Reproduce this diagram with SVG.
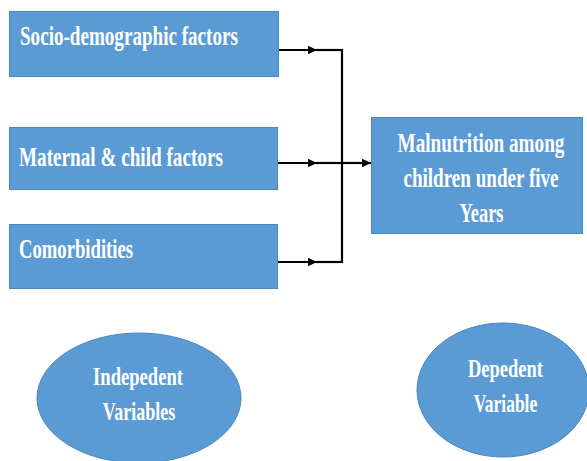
<svg xmlns="http://www.w3.org/2000/svg" width="587" height="461" viewBox="0 0 587 461">
<style>
.box{fill:#5B9BD5;stroke:#4A86C0;stroke-width:1}
.lbl{font-family:"Liberation Serif","Times New Roman",serif;font-weight:bold;fill:#ffffff;font-size:28px}
.sm{font-size:25px}
.mid{text-anchor:middle}
.ln{fill:none;stroke:#000000;stroke-width:2.2}
</style>
<defs>
<marker id="ah" markerUnits="userSpaceOnUse" markerWidth="10" markerHeight="10" refX="9" refY="5" orient="auto">
<path d="M0,0.8 L9,5 L0,9.2 z" fill="#000000"/>
</marker>
</defs>
<rect width="587" height="461" fill="#ffffff"/>
<g id="node-socio">
<rect class="box" x="9.5" y="11.5" width="269" height="65"/>
<text class="lbl" transform="translate(20,45) scale(0.682,1)">Socio-demographic factors</text>
</g>
<g id="node-maternal">
<rect class="box" x="9.5" y="127.5" width="268" height="62"/>
<text class="lbl" transform="translate(19,166) scale(0.685,1)">Maternal &amp; child factors</text>
</g>
<g id="node-comorbidities">
<rect class="box" x="9.5" y="224.5" width="268" height="64"/>
<text class="lbl" transform="translate(19,258) scale(0.667,1)">Comorbidities</text>
</g>
<g id="node-malnutrition">
<rect class="box" x="371.5" y="117.5" width="211" height="116"/>
<text class="lbl mid" transform="translate(481,152) scale(0.686,1)">Malnutrition among</text>
<text class="lbl mid" transform="translate(481,187) scale(0.682,1)">children under five</text>
<text class="lbl mid" transform="translate(481.5,222) scale(0.66,1)">Years</text>
</g>
<g id="node-independent">
<ellipse class="box" cx="139" cy="398" rx="102" ry="65"/>
<text class="lbl sm mid" transform="translate(138,385) scale(0.744,1)">Indepedent</text>
<text class="lbl sm mid" transform="translate(139,420) scale(0.72,1)">Variables</text>
</g>
<g id="node-dependent">
<ellipse class="box" cx="503" cy="390" rx="86" ry="67"/>
<text class="lbl sm mid" transform="translate(505.5,377) scale(0.74,1)">Depedent</text>
<text class="lbl sm mid" transform="translate(505.5,412) scale(0.70,1)">Variable</text>
</g>
<g id="connectors">
<line class="ln" x1="279" y1="50" x2="317" y2="50" marker-end="url(#ah)"/>
<line class="ln" x1="316" y1="50" x2="343" y2="50"/>
<line class="ln" x1="278" y1="163" x2="317" y2="163" marker-end="url(#ah)"/>
<line class="ln" x1="316" y1="163" x2="343" y2="163"/>
<line class="ln" x1="278" y1="262" x2="317" y2="262" marker-end="url(#ah)"/>
<line class="ln" x1="316" y1="262" x2="343" y2="262"/>
<line class="ln" x1="342" y1="49" x2="342" y2="263"/>
<line class="ln" x1="342" y1="163" x2="371" y2="163" marker-end="url(#ah)"/>
</g>
</svg>
